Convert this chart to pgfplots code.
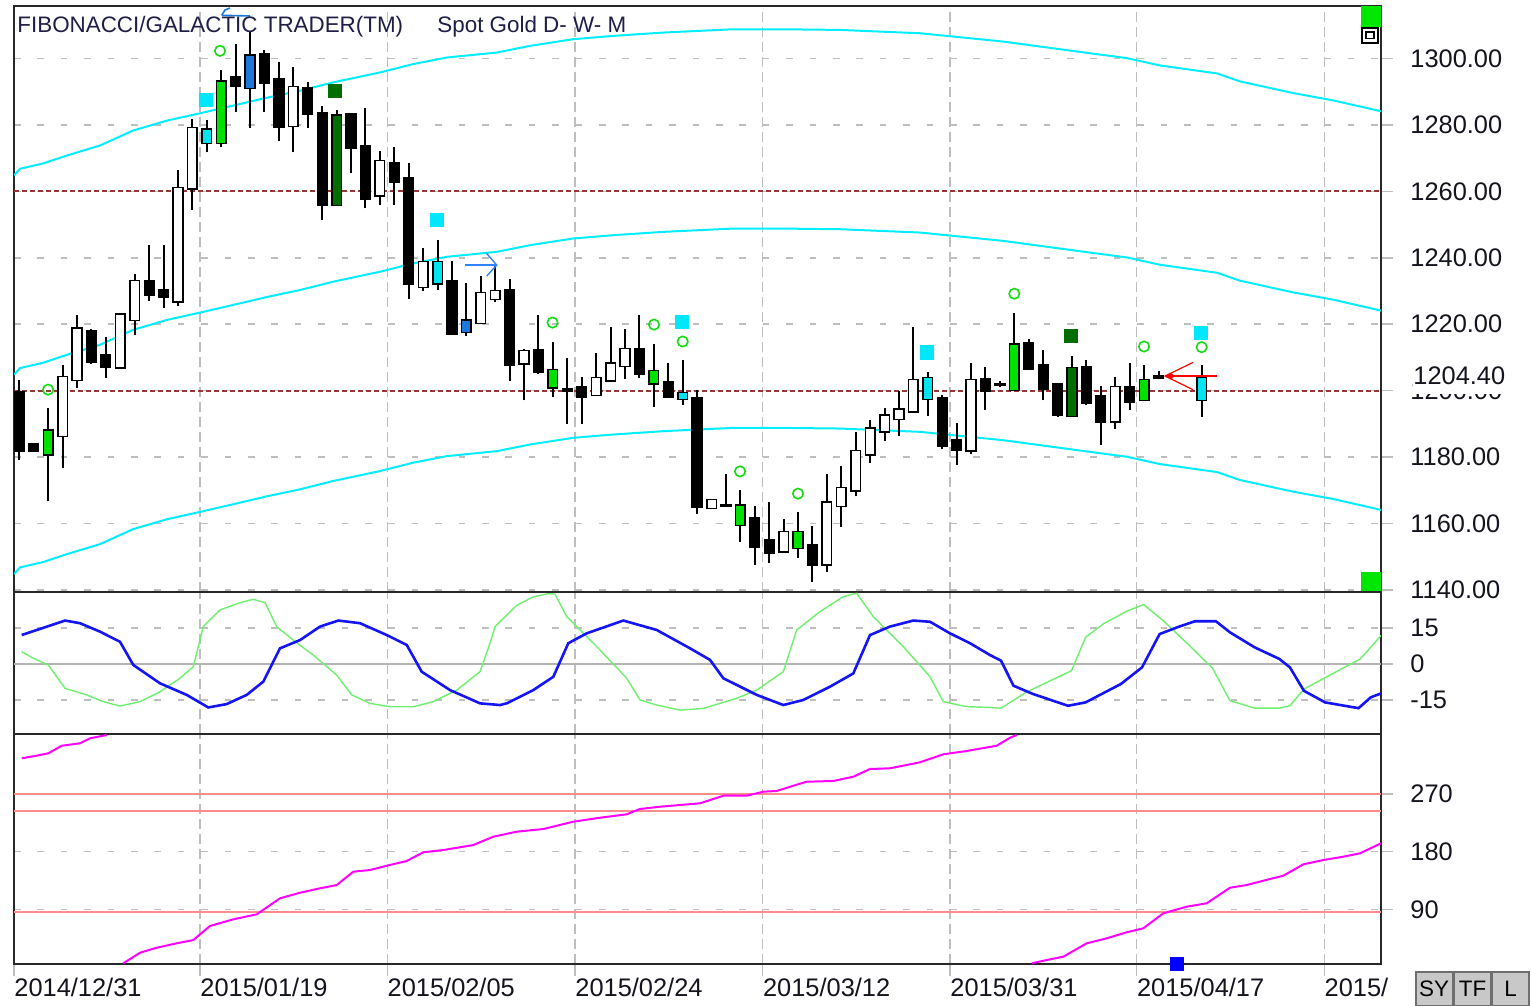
\documentclass[border=0pt]{standalone}
\usepackage{fontspec}
\setmainfont{Liberation Sans}
\usepackage{pgfplots}
\usepackage{pgfplotstable}
\pgfplotsset{compat=1.18}

\definecolor{axisc}{RGB}{40,40,40}
\definecolor{gridc}{RGB}{190,190,190}
\definecolor{labc}{RGB}{20,20,30}
\definecolor{titlec}{RGB}{30,30,70}
\definecolor{bandc}{RGB}{0,238,255}
\definecolor{cgreen}{RGB}{0,225,0}
\definecolor{cdkgreen}{RGB}{0,110,0}
\definecolor{ccyan}{RGB}{0,228,240}
\definecolor{cblue}{RGB}{30,120,220}
\definecolor{circc}{RGB}{20,220,20}
\definecolor{sqcyan}{RGB}{0,230,250}
\definecolor{reddash}{RGB}{150,55,55}
\definecolor{oscblue}{RGB}{20,20,245}
\definecolor{oscgreen}{RGB}{110,240,110}
\definecolor{zeroc}{RGB}{180,180,180}
\definecolor{pinkc}{RGB}{255,140,140}
\definecolor{magc}{RGB}{255,0,255}
\definecolor{arrowblue}{RGB}{50,130,255}
\definecolor{btnfill}{RGB}{200,200,200}
\definecolor{btnborder}{RGB}{110,110,110}
\definecolor{cornergreen}{RGB}{0,230,0}

\newcommand{\tickfont}{\fontsize{12.7}{14}\selectfont}
\newcommand{\titlefont}{\fontsize{11.2}{13}\selectfont}

\pgfplotsset{
  panel/.style={
    scale only axis, width=683.5pt, xmin=14, xmax=1381,
    axis line style={draw=axisc, line width=1pt},
    xtick={200,387.3,575,762.7,950,1136.7,1324.3},
    xmajorgrids, ymajorgrids,
    x grid style={draw=gridc, line width=0.75pt, dash pattern=on 5pt off 2.5pt},
    y grid style={draw=gridc, line width=0.75pt, dash pattern=on 3.3pt off 8.4pt},
    ytick pos=right, yticklabel pos=right, xtick pos=bottom,
    tick align=outside, major tick length=6pt,
    ytick style={draw=gridc, line width=0.75pt, solid},
    yticklabel style={font=\tickfont, text=labc, anchor=west, inner sep=0pt, xshift=8.5pt},
    clip mode=individual,
  },
  nomark/.style={only marks, mark=*, mark size=0pt, mark options={draw=none, fill=none}, forget plot},
  wickbar/.style={nomark,
    error bars/.cd, y dir=plus, y explicit, error mark=none,
    error bar style={draw=black, line width=1pt, solid, line cap=butt}},
  bodyline/.style={nomark,
    error bars/.cd, y dir=plus, y explicit, error mark=none,
    error bar style={draw=black, line width=5.6pt, solid, line cap=butt}},
  bodyfill/.style={nomark,
    error bars/.cd, y dir=plus, y explicit, error mark=none,
    error bar style={draw=#1, line width=4.0pt, solid, line cap=butt}},
}

% candles: x position, high, body top, body bottom, low, colour code
% colour codes: 0 black, 1 white, 2 green, 3 dark green, 4 cyan, 5 blue
\pgfplotstableread{
x h t b l c
19.3 1203.3 1199.5 1181.9 1179.2 0
33.7 1184.0 1183.8 1182.0 1181.8 0
48.1 1194.8 1188.0 1180.8 1166.7 2
62.6 1207.6 1204.0 1186.5 1176.8 1
77.0 1222.9 1218.6 1203.3 1200.8 1
91.4 1218.5 1217.8 1208.8 1208.0 0
105.8 1216.3 1210.5 1207.3 1203.8 0
120.2 1223.4 1222.9 1207.1 1206.5 1
134.7 1235.2 1232.9 1221.4 1216.8 1
149.1 1243.9 1232.9 1228.9 1226.9 0
163.5 1243.9 1230.1 1228.4 1224.9 0
177.9 1266.3 1260.9 1226.9 1225.4 1
192.3 1281.7 1279.0 1260.9 1254.4 1
206.8 1281.5 1278.5 1274.7 1271.7 4
221.2 1296.5 1293.0 1274.7 1273.3 2
235.6 1304.5 1294.3 1292.0 1284.0 0
250.0 1308.0 1300.8 1291.2 1279.0 5
264.4 1302.6 1301.1 1292.7 1284.0 0
278.9 1299.0 1293.7 1279.5 1275.3 0
293.3 1297.5 1291.3 1279.7 1271.7 1
307.7 1293.0 1291.0 1283.3 1279.0 0
322.1 1285.7 1283.5 1255.9 1251.4 0
336.5 1284.5 1282.7 1255.9 1255.9 3
351.0 1283.0 1283.0 1273.3 1265.6 0
365.4 1285.0 1273.5 1257.9 1254.9 0
379.8 1272.0 1269.0 1258.9 1255.9 1
394.2 1273.5 1268.5 1263.0 1255.9 0
408.6 1268.5 1264.0 1232.4 1227.6 0
423.1 1242.9 1238.6 1231.3 1230.0 1
437.5 1245.4 1238.6 1232.4 1230.4 4
451.9 1238.9 1232.9 1217.3 1217.3 0
466.3 1232.4 1221.1 1217.8 1216.5 5
480.7 1234.6 1229.4 1220.5 1220.5 1
495.2 1237.4 1229.9 1227.6 1226.6 1
509.6 1233.6 1230.2 1207.8 1202.8 0
524.0 1212.5 1211.8 1208.3 1197.1 1
538.4 1222.9 1212.1 1205.8 1205.1 0
552.8 1214.8 1206.1 1201.1 1198.1 2
567.3 1209.8 1200.4 1200.0 1190.1 0
581.7 1204.1 1201.1 1198.3 1190.1 0
596.1 1211.3 1203.8 1198.8 1198.8 1
610.5 1219.3 1208.1 1203.1 1203.1 1
624.9 1218.6 1212.5 1207.5 1203.5 1
639.4 1222.9 1212.5 1205.1 1203.8 0
653.8 1214.1 1205.8 1202.3 1195.1 2
668.2 1208.3 1202.5 1198.3 1198.3 0
682.6 1209.1 1199.3 1197.5 1195.8 4
697.0 1200.3 1197.5 1165.2 1163.0 0
711.5 1167.0 1167.0 1164.7 1164.7 1
725.9 1175.0 1165.5 1165.3 1165.0 0
740.3 1170.2 1165.4 1159.7 1154.4 2
754.7 1165.2 1161.4 1153.1 1147.4 0
769.1 1166.4 1155.0 1151.2 1148.2 0
783.6 1161.4 1157.4 1151.7 1151.0 1
798.0 1163.4 1157.4 1152.7 1149.7 2
812.4 1159.2 1153.4 1147.7 1142.3 0
826.8 1175.0 1166.2 1147.7 1145.4 1
841.2 1177.4 1170.7 1165.4 1159.0 1
855.7 1187.5 1181.7 1170.0 1168.2 1
870.1 1191.1 1188.5 1180.8 1178.2 1
884.5 1194.8 1192.5 1187.8 1184.8 1
898.9 1199.8 1194.3 1191.5 1186.3 1
913.3 1219.3 1203.1 1193.8 1193.8 1
927.8 1205.5 1203.8 1197.5 1192.3 4
942.2 1198.8 1197.5 1183.5 1182.3 0
956.6 1190.3 1185.1 1182.3 1177.7 0
971.0 1208.3 1203.1 1182.0 1180.8 1
985.4 1207.1 1203.3 1200.1 1194.3 0
999.9 1203.0 1202.0 1201.8 1201.0 0
1014.3 1223.5 1213.8 1200.3 1200.3 2
1028.7 1215.5 1214.1 1206.8 1206.8 0
1043.1 1212.1 1207.5 1200.8 1197.1 0
1057.5 1202.0 1201.8 1192.8 1192.1 0
1072.0 1210.5 1206.8 1192.5 1192.5 3
1086.4 1209.1 1207.1 1196.5 1195.8 0
1100.8 1201.3 1198.3 1190.8 1183.5 0
1115.2 1204.1 1201.1 1190.8 1188.5 1
1129.6 1208.3 1201.1 1196.8 1194.3 0
1144.1 1207.8 1203.1 1197.3 1197.3 2
1158.5 1206.0 1204.2 1204.0 1203.5 0
1201.7 1207.8 1203.8 1197.3 1192.1 4
}\candles

\pgfplotstableread{
x up mid lo
14 1264.8 1204.8 1144.8
20 1266.8 1206.8 1146.8
43 1268.4 1208.4 1148.4
67 1270.8 1210.8 1150.8
100 1273.8 1213.8 1153.8
133 1278.3 1218.3 1158.3
167 1281.3 1221.3 1161.3
200 1283.5 1223.5 1163.5
233 1285.8 1225.8 1165.8
267 1288.2 1228.2 1168.2
300 1290.3 1230.3 1170.3
333 1292.8 1232.8 1172.8
380 1295.8 1235.8 1175.8
413 1298.3 1238.3 1178.3
447 1300.3 1240.3 1180.3
497 1301.8 1241.8 1181.8
530 1303.8 1243.8 1183.8
573 1305.8 1245.8 1185.8
613 1306.8 1246.8 1186.8
663 1307.8 1247.8 1187.8
733 1308.8 1248.8 1188.8
780 1308.8 1248.8 1188.8
840 1308.6 1248.6 1188.6
920 1307.6 1247.6 1187.6
1003 1305.1 1245.1 1185.1
1077 1302.1 1242.1 1182.1
1127 1300.1 1240.1 1180.1
1160 1297.9 1237.9 1177.9
1217 1295.5 1235.5 1175.5
1240 1293.1 1233.1 1173.1
1293 1289.6 1229.6 1169.6
1333 1287.4 1227.4 1167.4
1381 1284.1 1224.1 1164.1
}\bands

\pgfplotstableread{
x v
21.7 12.0
43.3 15.0
65 18.0
80 16.9
100 13.4
120 9.2
133.3 -0.4
160 -8.0
186.7 -12.8
208.3 -18.0
226.7 -16.6
246.7 -12.8
263.3 -7.3
280 6.5
300 9.9
320 15.5
338.3 18.0
360 16.9
386.7 12.0
406.7 7.9
421.7 -3.2
450 -10.8
480 -16.3
500 -17.0
506.7 -16.3
533.3 -10.8
553.3 -5.3
568.3 8.6
586.7 12.7
623.3 18.0
656.7 14.1
690 6.5
710 1.7
723.3 -5.9
756.7 -12.8
783.3 -17.0
803.3 -14.9
830 -9.4
853.3 -3.9
870 12.0
890 15.5
913.3 18.0
930 17.5
950 12.7
970 8.6
990 3.7
1001 1.4
1013.5 -9.0
1032.8 -12.4
1068 -17.3
1085.6 -15.9
1120.8 -8.3
1142 -1.4
1159.6 12.4
1177.2 15.2
1194.8 17.7
1215.9 17.7
1230 13.1
1254.6 6.9
1279.3 2.1
1289.9 -1.4
1303.9 -11.1
1325.1 -15.9
1358.5 -18.3
1370.8 -13.8
1381 -12.2
}\oscb

\pgfplotstableread{
x v
21.7 5.1
33.3 2.4
48.3 -0.4
65 -10.1
86.7 -12.8
103.3 -15.6
120 -17.4
140 -15.6
160 -11.5
180 -5.9
193.3 -1.1
203.3 15.5
220 22.4
240 25.4
253.3 26.8
265 25.4
276.7 15.5
293.3 9.9
313.3 3.7
336.7 -4.6
351.7 -12.8
370 -16.3
390 -17.7
413.3 -17.7
433.3 -15.6
456.7 -10.8
480 -3.2
490 8.6
495 15.5
516.7 24.3
533.3 27.8
548.3 29.1
555 29.0
566.7 19.6
600 5.8
626.7 -5.9
640 -14.9
656.7 -17.0
680 -19.1
703.3 -18.4
736.7 -14.2
756.7 -10.8
783.3 -3.2
796.7 14.1
820 21.7
843.3 27.9
856.7 29.3
873.3 19.6
903.3 7.2
930 -5.3
943.3 -15.6
966.7 -17.7
990 -18.0
1001 -18.3
1025.8 -11.8
1050.4 -6.9
1071.5 -2.8
1085.6 11.1
1103.2 16.6
1127.9 22.1
1143.7 24.6
1163.1 18.0
1191.3 6.9
1212.4 -1.7
1230 -15.2
1254.6 -18.3
1279.3 -18.3
1289.9 -17.3
1303.9 -10.4
1332.1 -4.1
1360.3 2.1
1381 11.8
}\oscg

\begin{document}
\begin{tikzpicture}
\path[use as bounding box] (0pt,0pt) rectangle (765.5pt,-503pt);

% ---------------- price panel ----------------
\begin{axis}[panel, at={(7pt,-3pt)}, anchor=north west, height=293.15pt,
  ymin=1139.3, ymax=1315.8,
  ytick={1140,1160,1180,1200,1220,1240,1260,1280,1300},
  yticklabels={1140.00,1160.00,1180.00,1200.00,1220.00,1240.00,1260.00,1280.00,1300.00},
  extra y ticks={1204.4}, extra y tick labels={1204.40},
  extra y tick style={grid=none, major tick length=0pt,
     yticklabel style={fill=white, inner xsep=0pt, inner ysep=4.5pt, xshift=7.5pt}},
  xticklabels={}, xtick style={draw=none}]
  \addplot[reddash, line width=1pt, dash pattern=on 2.5pt off 1.5pt] coordinates {(14,1260) (1381,1260)};
  \addplot[reddash, line width=1pt, dash pattern=on 2.5pt off 1.5pt] coordinates {(14,1200) (1381,1200)};
  \addplot[bandc, line width=1pt] table[x=x, y=up] {\bands};
  \addplot[bandc, line width=1pt] table[x=x, y=mid] {\bands};
  \addplot[bandc, line width=1pt] table[x=x, y=lo] {\bands};

  % candles: wicks, black outlines, coloured fills
  \addplot[wickbar] table[x=x, y=l, y error expr=\thisrow{h}-\thisrow{l}] {\candles};
  \addplot[bodyline] table[x=x, y expr=\thisrow{b}-0.45, y error expr=\thisrow{t}-\thisrow{b}+0.9] {\candles};
  \addplot[restrict expr to domain={\thisrow{c}}{1:1}, bodyfill=white] table[x=x, y=b, y error expr=\thisrow{t}-\thisrow{b}] {\candles};
  \addplot[restrict expr to domain={\thisrow{c}}{2:2}, bodyfill=cgreen] table[x=x, y=b, y error expr=\thisrow{t}-\thisrow{b}] {\candles};
  \addplot[restrict expr to domain={\thisrow{c}}{3:3}, bodyfill=cdkgreen] table[x=x, y=b, y error expr=\thisrow{t}-\thisrow{b}] {\candles};
  \addplot[restrict expr to domain={\thisrow{c}}{4:4}, bodyfill=ccyan] table[x=x, y=b, y error expr=\thisrow{t}-\thisrow{b}] {\candles};
  \addplot[restrict expr to domain={\thisrow{c}}{5:5}, bodyfill=cblue] table[x=x, y=b, y error expr=\thisrow{t}-\thisrow{b}] {\candles};

  % signal markers
  \addplot[only marks, mark=o, mark size=2.6pt, draw=circc, line width=0.8pt] coordinates {
    (48.1,1200.3) (220,1302.3) (552.5,1220.5) (654,1219.9) (682.7,1214.8)
    (740,1175.7) (798,1169) (1014.3,1229.2) (1144,1213.3) (1201.7,1213.1)};
  \addplot[only marks, mark=square*, mark size=3.3pt, sqcyan] coordinates {
    (206,1287.5) (436.7,1251.4) (681.7,1220.8) (926.7,1211.5) (1200.7,1217.3)};
  \addplot[only marks, mark=square*, mark size=3.3pt, cdkgreen] coordinates {
    (335,1290.3) (1070.7,1216.5)};
  % blue arrow
  \addplot[arrowblue, line width=0.7pt] coordinates {(465,1237.8) (496.7,1237.8)};
  \addplot[arrowblue, line width=0.7pt] coordinates {(486.7,1241.3) (496.7,1237.8) (486.7,1234.5)};
  % blue hook near the title
  \addplot[cblue, line width=0.8pt] coordinates {(221.7,1313.0) (250,1312.8)};
  \addplot[cblue, line width=0.8pt] coordinates {(221.7,1313.0) (225,1314.6) (230,1315.2)};
  % red arrow
  \addplot[red, line width=0.8pt] coordinates {(1165,1204.4) (1217,1204.4)};
  \addplot[red, line width=0.6pt] coordinates {(1193,1208.5) (1165,1204.4) (1193,1200.3)};
  \addplot[only marks, mark=*, mark size=1.2pt, red] coordinates {(1171,1204.4)};
  % corner widgets
  \fill[cornergreen] (axis cs:1361,1315.8) rectangle (axis cs:1381,1309.5);
  \draw[black, line width=0.8pt, fill=white] (axis cs:1362,1309.2) rectangle (axis cs:1378,1304.7);
  \draw[black, line width=0.6pt] (axis cs:1366,1308.0) rectangle (axis cs:1374,1306.0);
  \fill[cornergreen] (axis cs:1361,1145.3) rectangle (axis cs:1381,1139.3);
\end{axis}

% ---------------- oscillator panel ----------------
\begin{axis}[panel, at={(7pt,-296.15pt)}, anchor=north west, height=70.85pt,
  ymin=-29.0, ymax=29.7,
  ytick={-15,0,15}, yticklabels={-15,0,15},
  xticklabels={}, xtick style={draw=none}]
  \addplot[zeroc, line width=1pt] coordinates {(14,0) (1381,0)};
  \addplot[oscgreen, line width=0.7pt] table[x=x, y=v] {\oscg};
  \addplot[oscblue, line width=1.3pt] table[x=x, y=v] {\oscb};
\end{axis}

% ---------------- cycle panel ----------------
\begin{axis}[panel, at={(7pt,-367pt)}, anchor=north west, height=115pt,
  ymin=4.8, ymax=363.6,
  ytick={90,180,270}, yticklabels={90,180,270},
  xtick={14,200,387.3,575,762.7,950,1136.7,1324.3},
  xticklabels={2014/12/31,2015/01/19,2015/02/05,2015/02/24,2015/03/12,2015/03/31,2015/04/17,2015/},
  xtick style={draw=gridc, line width=0.75pt, solid},
  xticklabel style={font=\tickfont, text=labc, anchor=north west, inner sep=0pt, yshift=-1pt}]
  \addplot[pinkc, line width=1pt] coordinates {(14,270) (1381,270)};
  \addplot[pinkc, line width=1pt] coordinates {(14,244) (1381,244)};
  \addplot[pinkc, line width=1pt] coordinates {(14,86.3) (1381,86.3)};
  \addplot[magc, line width=1pt] coordinates {
    (21.7,325.7) (36.7,329.8) (48.3,333.5) (61.7,345.3) (80,349.1) (90,356.9) (106.7,362.0)};
  \addplot[magc, line width=1pt] coordinates {
    (123.3,5.9) (140,22.4) (156.7,30.2) (176.7,37.1) (193.3,42.2) (210,64.1) (233.3,74.5)
    (256.7,82.3) (280,107.3) (300,116.0) (320,122.9) (336.7,128.0) (353.3,148.8) (370,151.4)
    (386.7,158.1) (406.7,165.5) (423.3,179.1) (443.3,182.6) (473.3,190.4) (493.3,203.4)
    (516.7,211.2) (543.3,215.4) (573.3,226.8) (600,233.0) (626.7,238.3) (640,246.6) (660,250.2)
    (700,255.5) (723.3,267.3) (746.7,267.3) (763.3,273.6) (776.7,274.7) (793.3,282.9)
    (806.7,289.2) (833.3,290.3) (853.3,297.0) (870,309.0) (890,310.1) (920,319.5) (943.3,331.9)
    (966.7,337.1) (996.7,345.3) (1010,357.8) (1016.7,362.0)};
  \addplot[magc, line width=1pt] coordinates {
    (1031.7,5.9) (1046.7,11.0) (1063.3,16.2) (1086.7,37.1) (1106.7,44.9) (1126.7,54.3)
    (1143.3,60.5) (1163.3,83.9) (1186.7,94.2) (1206.7,99.5) (1230,123.8) (1246.7,128.0)
    (1270,137.4) (1283.3,142.5) (1303.3,160.3) (1323.3,167.0) (1343.3,172.2) (1360,177.5)
    (1381,193.1)};
  \addplot[only marks, mark=square*, mark size=3.2pt, blue] coordinates {(1176.5,4.8)};
\end{axis}

% ---------------- texts and buttons ----------------
\node[anchor=west, inner sep=0pt, font=\titlefont, text=titlec] at (8.5pt,-13.5pt) {FIBONACCI/GALACTIC TRADER(TM)};
\node[anchor=west, inner sep=0pt, font=\titlefont, text=titlec] at (218.5pt,-13.5pt) {Spot Gold D- W- M};
\node[draw=btnborder, fill=btnfill, line width=0.8pt, minimum width=18.3pt, minimum height=17pt, anchor=north west, inner sep=0pt, font=\titlefont] at (707.5pt,-485.5pt) {SY};
\node[draw=btnborder, fill=btnfill, line width=0.8pt, minimum width=18.3pt, minimum height=17pt, anchor=north west, inner sep=0pt, font=\titlefont] at (726.7pt,-485.5pt) {TF};
\node[draw=btnborder, fill=btnfill, line width=0.8pt, minimum width=18.3pt, minimum height=17pt, anchor=north west, inner sep=0pt, font=\titlefont] at (745.8pt,-485.5pt) {L};
\end{tikzpicture}
\end{document}
